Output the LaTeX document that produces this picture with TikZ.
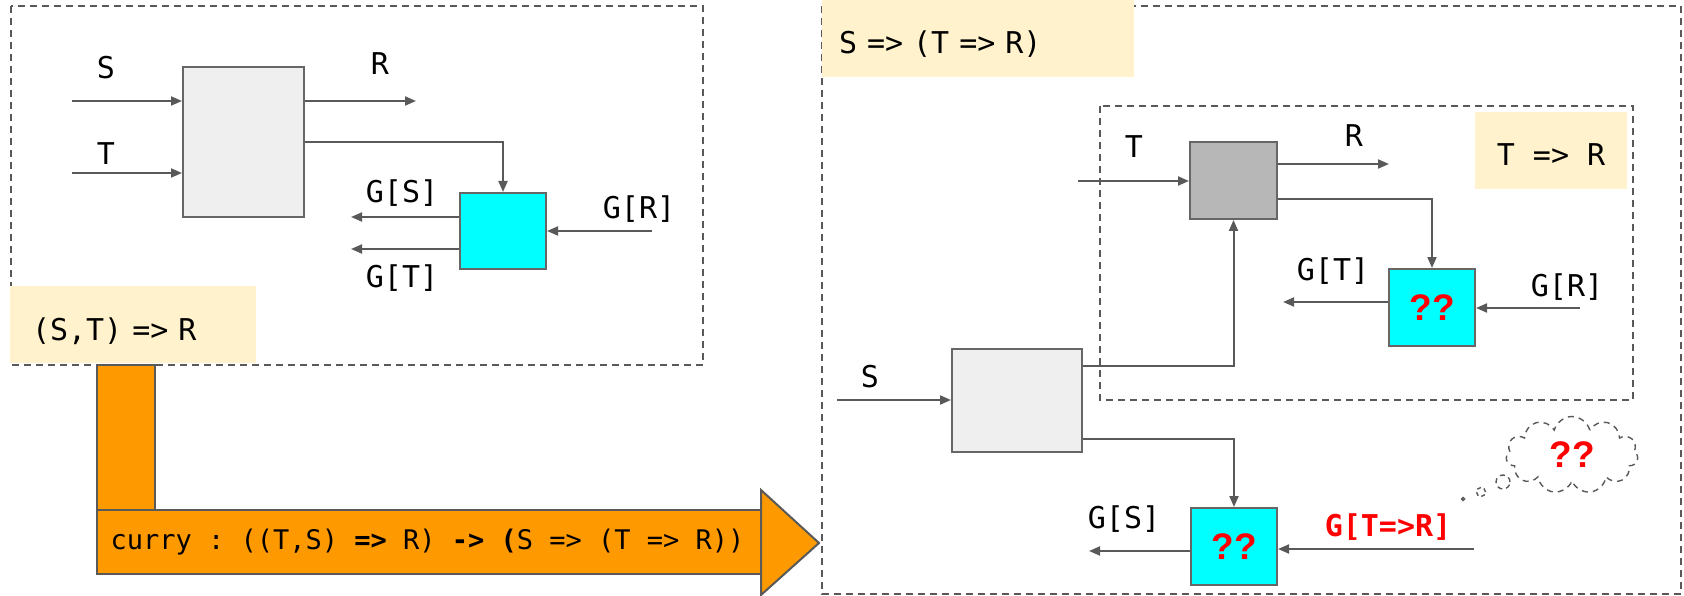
\documentclass[tikz,border=0pt]{standalone}
\usepackage{fontspec}
\setmonofont{DejaVu Sans Mono}
\newfontfamily\qqfont{Liberation Sans}
\usetikzlibrary{arrows.meta,shapes.symbols}
\definecolor{linegray}{HTML}{595959}
\definecolor{boxgray}{HTML}{666666}
\definecolor{lightbox}{HTML}{EFEFEF}
\definecolor{darkbox}{HTML}{B7B7B7}
\definecolor{aquabox}{HTML}{00FFFF}
\definecolor{notecol}{HTML}{FFF2CC}
\definecolor{currycol}{HTML}{FF9900}

\begin{document}
\begin{tikzpicture}[x=1pt,y=-1pt,
  flow/.style={draw=linegray,line width=2pt,-{Triangle[length=11pt,width=9pt]}},
  frame/.style={draw=linegray,line width=1.6pt,dash pattern=on 7pt off 5pt},
  block/.style={draw=boxgray,line width=2pt,inner sep=0pt},
  txt/.style={font=\ttfamily\fontsize{30}{36}\selectfont,inner sep=0pt},
  note/.style={fill=notecol,inner sep=0pt,text height=31pt,text depth=0pt,font=\ttfamily\fontsize{30}{36}\selectfont},
  qq/.style={font=\qqfont\bfseries\fontsize{37}{40}\selectfont,text=red},
  currybar/.style={fill=currycol,draw=linegray,line width=2pt,line join=miter}]
  \useasboundingbox (0,0) rectangle (1684,596);

  % left: (S,T) => R
  \begin{scope}
    \draw[frame] (11,6) rectangle (703,365);
    \node[note,inner xsep=22pt,text width=202pt,minimum height=77pt,align=left] (noteST) at (133,324.5) {(S,T) => R};
    \node[block,fill=lightbox,minimum width=121pt,minimum height=150pt] (boxA) at (243.5,142) {};
    \node[block,fill=aquabox,minimum width=86pt,minimum height=76pt] (cyanA) at (503,231) {};
    \coordinate (sIn)   at (72,101);
    \coordinate (tIn)   at (72,173);
    \coordinate (rOut)  at (416,101);
    \coordinate (gsOut) at (351,217);
    \coordinate (gtOut) at (351,249);
    \coordinate (grIn)  at (652,231);
    \draw[flow] (sIn) -- (sIn -| boxA.west);
    \draw[flow] (tIn) -- (tIn -| boxA.west);
    \draw[flow] (rOut -| boxA.east) -- (rOut);
    \draw[flow] (boxA.east) -| (cyanA.north);
    \draw[flow] (gsOut -| cyanA.west) -- (gsOut);
    \draw[flow] (gtOut -| cyanA.west) -- (gtOut);
    \draw[flow] (grIn) -- (cyanA.east);
    \node[txt] (labS)  at (106,68)  {S};
    \node[txt] (labT)  at (106,154) {T};
    \node[txt] (labR)  at (380,64)  {R};
    \node[txt] (labGS) at (402,193) {G[S]};
    \node[txt] (labGT) at (402,278) {G[T]};
    \node[txt] (labGR) at (639,209) {G[R]};
  \end{scope}

  % curry arrow
  \draw[currybar] (97,365) rectangle (155,510);
  \draw[currybar] (97,510) rectangle (761,574);
  \draw[currybar] (761,490) -- (819,543) -- (761,595) -- cycle;
  \node[txt,font=\ttfamily\fontsize{27}{32}\selectfont] (curry) at (427.5,542)
    {curry : ((T,S) \textbf{=>} R) \textbf{->} \textbf{(}S => (T => R))};

  % right: S => (T => R)
  \begin{scope}
    \draw[frame] (822,6) rectangle (1681,594);
    \draw[frame] (1100,106) rectangle (1633,400);
    \node[note,inner xsep=17pt,text width=278pt,minimum height=77pt,align=left] (noteSTR) at (978,38.5) {S => (T => R)};
    \node[note,minimum width=152pt,minimum height=77pt] (noteTR) at (1551,150.5) {T => R};
    \node[block,fill=darkbox,minimum width=87pt,minimum height=77pt] (boxB) at (1233.5,180.5) {};
    \node[block,fill=aquabox,minimum width=86pt,minimum height=77pt,qq] (cyanB) at (1432,307.5) {??};
    \node[block,fill=lightbox,minimum width=130pt,minimum height=103pt] (boxC) at (1017,400.5) {};
    \node[block,fill=aquabox,minimum width=86pt,minimum height=77pt,qq] (cyanC) at (1234,546.5) {??};
    \coordinate (tIn2)   at (1078,181);
    \coordinate (rOut2)  at (1389,164);
    \coordinate (gtOut2) at (1283,302);
    \coordinate (grIn2)  at (1580,308);
    \coordinate (sIn2)   at (837,400);
    \coordinate (gsOut2) at (1089,551);
    \coordinate (gtrIn)  at (1474,549);
    \draw[flow] (tIn2) -- (tIn2 -| boxB.west);
    \draw[flow] (rOut2 -| boxB.east) -- (rOut2);
    \draw[flow] ([yshift=-18.5pt]boxB.east) -| (cyanB.north);
    \draw[flow] (gtOut2 -| cyanB.west) -- (gtOut2);
    \draw[flow] (grIn2) -- (grIn2 -| cyanB.east);
    \draw[flow] (sIn2) -- (sIn2 -| boxC.west);
    \draw[flow] ([yshift=34.5pt]boxC.east) -| (boxB.south);
    \draw[flow] ([yshift=-38.5pt]boxC.east) -| (cyanC.north);
    \draw[flow] (gsOut2 -| cyanC.west) -- (gsOut2);
    \draw[flow] (gtrIn) -- (gtrIn -| cyanC.east);
    \node[txt] (labT2)  at (1134,147) {T};
    \node[txt] (labR2)  at (1354,136) {R};
    \node[txt] (labGT2) at (1333,271) {G[T]};
    \node[txt] (labGR2) at (1567,287) {G[R]};
    \node[txt] (labS2)  at (870,377)  {S};
    \node[txt] (labGS2) at (1124,519) {G[S]};
    \node[txt,text=red,font=\ttfamily\bfseries\fontsize{30}{36}\selectfont] (labGTR) at (1388,527) {G[T=>R]};
    % thought cloud
    \node[cloud,cloud puffs=11,cloud ignores aspect,draw=linegray,line width=1.4pt,dash pattern=on 6pt off 5pt,
          minimum width=132pt,minimum height=77pt,inner sep=0pt,qq] (cloudQ) at (1572,455) {??};
    \draw[draw=linegray,line width=1.4pt,dash pattern=on 5pt off 4pt] (1503,482) circle[radius=7pt];
    \draw[draw=linegray,line width=1.4pt,dash pattern=on 4pt off 3pt] (1481,492) circle[radius=4.5pt];
    \draw[draw=linegray,line width=1.4pt] (1463,499) circle[radius=1.5pt];
  \end{scope}
\end{tikzpicture}
\end{document}
